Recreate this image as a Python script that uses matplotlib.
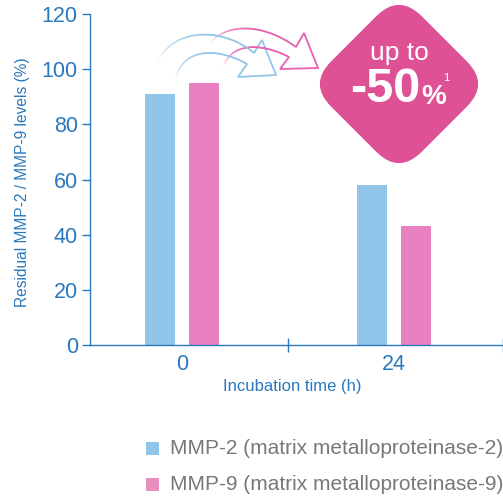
import matplotlib
matplotlib.use("Agg")
from matplotlib import pyplot as plt
from matplotlib.collections import LineCollection
from matplotlib.patches import FancyBboxPatch, Polygon, Rectangle
from matplotlib.transforms import Affine2D
import numpy as np

plt.rcParams["font.family"] = ["Liberation Sans", "DejaVu Sans"]

W, H = 503, 496
BLUE = "#2a78bd"
MMP2_COLOR = "#92c5ea"
MMP9_COLOR = "#e981c1"
BADGE = "#de5295"
GREY = "#77787b"

times = ["0", "24"]
mmp2 = [91, 58]
mmp9 = [95, 43]
y_ticks = [0, 20, 40, 60, 80, 100, 120]
legend_labels = ["MMP-2 (matrix metalloproteinase-2)", "MMP-9 (matrix metalloproteinase-9)"]
legend_colors = [MMP2_COLOR, "#e98fbe"]

fig = plt.figure(figsize=(W / 100, H / 100), dpi=100)
ax = fig.add_axes([90 / W, 1 - 345 / H, (W - 90) / W, 331 / H])

# one category is 212 px wide
pos = np.arange(len(times))
bar_w = 30 / 212
off = 22 / 212
ax.bar(pos - off, mmp2, bar_w, color=MMP2_COLOR)
ax.bar(pos + off, mmp9, bar_w, color=MMP9_COLOR)

ax.set_xlim(-92 / 212, 321 / 212)
ax.set_ylim(0, 120)
ax.set_yticks(y_ticks)
ax.set_xticks([0.5, 321 / 212])
ax.set_xticklabels(["", ""])
ax.tick_params(axis="x", color=BLUE, length=10.5, width=1, direction="inout")
ax.tick_params(axis="y", color=BLUE, labelcolor=BLUE, labelsize=15.5, length=5.8, width=1, pad=3)
for s in ["top", "right"]:
    ax.spines[s].set_visible(False)
for s in ["left", "bottom"]:
    ax.spines[s].set_color(BLUE)
    ax.spines[s].set_linewidth(1)

# overlay in pixel coords
ov = fig.add_axes([0, 0, 1, 1], facecolor="none")
ov.set_xlim(0, W)
ov.set_ylim(H, 0)
ov.axis("off")

for p, t in zip(pos, times):
    ov.text(182 + 212 * p, 365, t, ha="center", va="center", fontsize=15.5, color=BLUE)
ov.text(292, 386, "Incubation time (h)", ha="center", va="center", fontsize=12, color=BLUE)
ov.text(23, 182, "Residual MMP-2 / MMP-9 levels (%)", rotation=90, ha="center", va="center",
        fontsize=11.2, color=BLUE)


def bezier(p0, c1, c2, p3, n=60):
    t = np.linspace(0, 1, n)[:, None]
    pts = np.array([p0, c1, c2, p3], dtype=float)
    return ((1 - t) ** 3 * pts[0] + 3 * (1 - t) ** 2 * t * pts[1]
            + 3 * (1 - t) * t ** 2 * pts[2] + t ** 3 * pts[3])


def fading(curve, color):
    segs = np.stack([curve[:-1], curve[1:]], axis=1)
    cols = np.tile(matplotlib.colors.to_rgba(color), (len(segs), 1))
    cols[:, 3] = np.clip(np.linspace(0, 1.7, len(segs)), 0, 1)
    ov.add_collection(LineCollection(segs, colors=cols, linewidths=1.2, capstyle="round"))


def arrow(upper, lower, head, color):
    # fill the head white so it covers what is behind it
    ov.add_patch(Polygon(head, closed=False, facecolor="white", edgecolor=color,
                         linewidth=1.3, joinstyle="miter"))
    fading(bezier(*upper), color)
    fading(bezier(*lower), color)


arrow(((210, 43), (227, 23), (263, 23), (296, 47)),
      ((223, 68), (230, 43), (260, 42), (289, 57)),
      [(296, 47), (304, 33), (318, 68), (280, 69), (289, 57)],
      "#e860b0")
arrow(((157, 63), (173, 27), (223, 27), (254, 53)),
      ((175, 83), (180, 47), (217, 47), (247, 64)),
      [(254, 53), (262, 40), (276, 75), (238, 77), (247, 64)],
      MMP2_COLOR)

# rotated rounded square badge
badge = FancyBboxPatch((-64, -64), 128, 128, boxstyle="round,pad=0,rounding_size=32",
                       facecolor=BADGE, edgecolor="none",
                       transform=Affine2D().rotate_deg(45).translate(399, 84) + ov.transData)
ov.add_patch(badge)
ov.text(399, 53, "up to", ha="center", va="center", fontsize=19, color="white")
narrow = ["Liberation Sans Narrow", "Liberation Sans"]
ov.text(385, 90, "-50", ha="center", va="center", fontsize=35, fontweight="bold",
        color="white", family=narrow)
ov.text(434, 97, "%", ha="center", va="center", fontsize=20, fontweight="bold",
        color="white", family=narrow)
ov.text(446, 78, "1", ha="center", va="center", fontsize=8, color="white")

# legend
for y, lab, col in zip([448, 484], legend_labels, legend_colors):
    ov.add_patch(Rectangle((146, y - 6.5), 13, 13, facecolor=col, edgecolor="none"))
    ov.text(170, y, lab, ha="left", va="center", fontsize=15, color=GREY)

fig.savefig("out.png", dpi=100)
